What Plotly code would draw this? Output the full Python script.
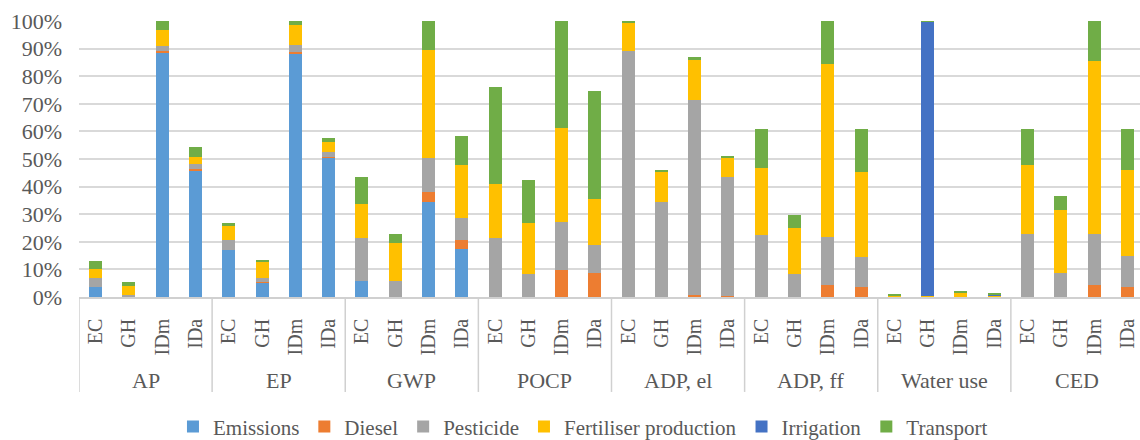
import plotly.graph_objects as go

# Impact categories and cultivation systems
groups = ["AP", "EP", "GWP", "POCP", "ADP, el", "ADP, ff", "Water use", "CED"]
systems = ["EC", "GH", "IDm", "IDa"]

# Contribution of each source (% of the highest system per impact category)
emissions = [3.5, 0, 88.7, 45.9,
             17.2, 5.4, 88.1, 50.4,
             5.8, 0, 34.3, 17.5,
             0, 0, 0, 0,
             0, 0, 0, 0,
             0, 0, 0, 0,
             0, 0, 0, 0,
             0, 0, 0, 0]
diesel = [0, 0, 0.6, 0.5,
          0, 0.2, 0.5, 0.3,
          0, 0, 3.8, 3.3,
          0, 0, 9.7, 8.8,
          0, 0, 0.9, 0.5,
          0, 0, 4.3, 3.8,
          0, 0, 0, 0,
          0, 0, 4.3, 3.8]
pesticide = [3.4, 0.9, 1.8, 1.8,
             3.6, 1.3, 2.6, 2.0,
             15.6, 5.8, 12.3, 7.9,
             21.4, 8.3, 17.3, 10.2,
             89.3, 34.5, 70.3, 42.9,
             22.3, 8.2, 17.6, 10.7,
             0, 0, 0, 0,
             22.7, 8.6, 18.4, 11.2]
fertiliser = [3.3, 3.0, 5.6, 2.5,
              5.1, 5.8, 7.3, 3.4,
              12.3, 13.7, 39.0, 19.1,
              19.6, 18.6, 34.1, 16.6,
              9.8, 10.9, 14.8, 7.0,
              24.5, 16.7, 62.6, 30.9,
              0.6, 0.4, 1.6, 0.4,
              25.1, 23.0, 62.8, 30.9]
irrigation = [0, 0, 0, 0,
              0, 0, 0, 0,
              0, 0, 0, 0,
              0, 0, 0, 0,
              0, 0, 0, 0,
              0, 0, 0, 0,
              0, 99.3, 0.1, 0.5,
              0, 0, 0, 0]
transport = [2.9, 1.5, 3.3, 3.6,
             1.0, 0.4, 1.5, 1.6,
             9.7, 3.4, 10.6, 10.7,
             35.0, 15.4, 38.9, 39.1,
             0.9, 0.5, 0.9, 0.8,
             14.1, 4.8, 15.5, 15.5,
             0.4, 0.3, 0.5, 0.5,
             13.1, 4.9, 14.5, 15.0]

series = [
    ("Emissions", emissions, "#5B9BD5"),
    ("Diesel", diesel, "#ED7D31"),
    ("Pesticide", pesticide, "#A5A5A5"),
    ("Fertiliser production", fertiliser, "#FFC000"),
    ("Irrigation", irrigation, "#4472C4"),
    ("Transport", transport, "#70AD47"),
]

n_sys = len(systems)
positions = list(range(len(groups) * n_sys))
tick_text = systems * len(groups)

FONT = "Times New Roman"
TXT = "#595959"
LINE = "#D0D0D0"

fig = go.Figure()
for name, vals, color in series:
    fig.add_trace(go.Bar(
        x=positions, y=vals, name=name,
        marker=dict(color=color, line=dict(width=0)),
    ))

# Vertical dividers between impact categories below the axis
div_bottom = -0.344
for g in range(len(groups) + 1):
    xpos = g * n_sys - 0.5
    fig.add_shape(type="line", xref="x", yref="paper",
                  x0=xpos, x1=xpos, y0=0, y1=div_bottom,
                  line=dict(color=LINE, width=1.5))

# Impact-category labels under the system labels
for g, name in enumerate(groups):
    fig.add_annotation(x=g * n_sys + (n_sys - 1) / 2, y=-0.302,
                       xref="x", yref="paper", text=name, showarrow=False,
                       yanchor="middle", font=dict(family=FONT, size=22, color=TXT))

fig.update_layout(
    width=1140, height=440,
    margin=dict(l=79, r=0, t=21, b=143, autoexpand=False),
    barmode="stack",
    bargap=0.61,
    plot_bgcolor="white",
    paper_bgcolor="white",
    font=dict(family=FONT, color=TXT, size=20),
    xaxis=dict(
        range=[-0.5, 31.38],
        tickmode="array", tickvals=positions, ticktext=tick_text,
        tickangle=-90, ticks="", showgrid=False, zeroline=False,
        showline=True, linecolor=LINE, linewidth=1.5,
        tickfont=dict(family=FONT, size=20, color=TXT),
        ticklabelstandoff=12,
    ),
    yaxis=dict(
        range=[0, 100], dtick=10, ticksuffix="%",
        showgrid=True, gridcolor="#D9D9D9", gridwidth=1.5,
        zeroline=False, showline=False, ticks="",
        tickfont=dict(family=FONT, size=22, color=TXT),
        ticklabelstandoff=16,
    ),
    legend=dict(
        orientation="h", x=0.475, xanchor="center",
        yref="container", y=0.03, yanchor="middle",
        traceorder="normal", font=dict(family=FONT, size=21, color=TXT),
        itemwidth=30, tracegroupgap=0,
    ),
    showlegend=True,
)

fig.write_html("out.html")
